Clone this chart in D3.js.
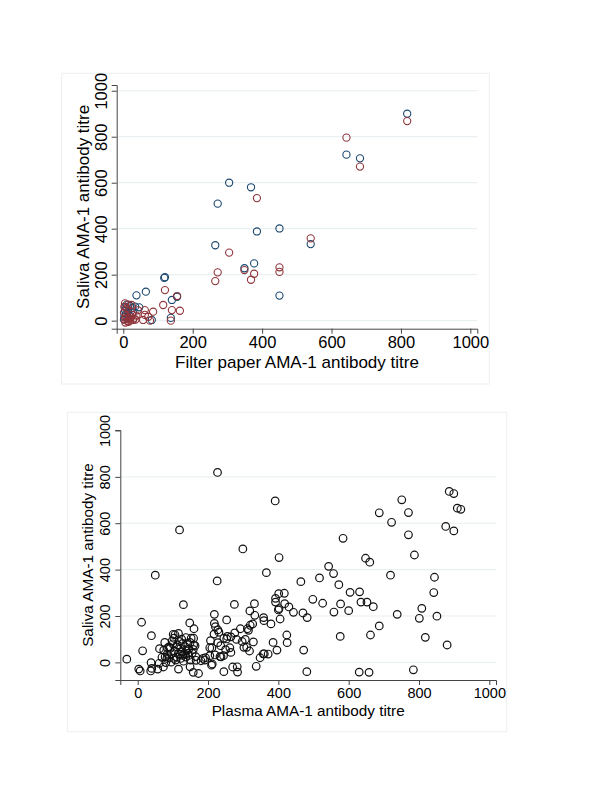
<!DOCTYPE html>
<html>
<head>
<meta charset="utf-8">
<script src="https://cdn.jsdelivr.net/npm/d3@7"></script>
<style>
  body { margin: 0; background: #fff; }
  text { font-family: "Liberation Sans", Arial, sans-serif; fill: #000; }
</style>
</head>
<body>
<script>
// tick labels shared by both panels
const tickVals = [0, 200, 400, 600, 800, 1000];

// top panel: filter paper vs saliva, two series
const blueFilter = [818, 643, 682, 385, 305, 540, 272, 265, 377, 349,
    368, 450, 450, 120, 118, 140, 155, 137, 82, 65,
    38, 19, 34, 46, 26, 10, 5, 8, 3, 14,
    2, 20, 12, 6, 28];
const blueSaliva = [900, 722, 706, 388, 600, 333, 509, 328, 249, 228,
    580, 401, 109, 189, 186, 90, 104, 12, 3, 126,
    110, 64, 61, 58, 55, 70, 45, 30, 18, 40,
    5, 20, 10, 60, 35];
const redFilter = [818, 643, 682, 385, 305, 540, 272, 265, 377, 349,
    368, 450, 450, 120, 115, 140, 155, 163, 137, 86,
    62, 57, 62, 72, 77, 38, 42, 5, 24, 15,
    10, 2, 8, 4, 12, 18, 22, 28, 15, 6,
    25, 30, 9, 20, 3, 35];
const redSaliva = [868, 796, 670, 533, 296, 358, 210, 172, 204, 220,
    178, 232, 212, 133, 68, 46, 107, 43, 0, 39,
    46, 3, 25, 17, 0, 22, 45, 75, 68, 70,
    55, 35, 20, 5, -2, 8, 15, 3, -5, -8,
    25, 10, 12, 0, 60, 5];

// bottom panel: plasma vs saliva
const plasma = [227, 391, 119, 299, 402, 50, 366, 226, 130, 464,
    517, 543, 557, 572, 604, 631, 648, 660, 584, 687,
    722, 751, 770, 770, 787, 719, 876, 886, 899, 899,
    909, 919, 844, 842, 808, 801, 851, 818, 880, 784,
    658, 630, 738, 687, 662, 670, 652, 635, 600, 577,
    558, 576, 526, 498, 482, 470, 472, 481, 443, 430,
    418, 417, 401, 392, 392, 402, 405, 424, 425, 396,
    385, 379, 358, 359, 332, 319, 333, 327, 315, 292,
    275, 253, 218, 218, 221, 228, 217, 207, 276, 245,
    253, 281, 306, 329, 310, 318, 302, 348, 357, 371,
    337, 283, 284, 270, 245, 265, 262, 236, 244, 234,
    211, 205, 193, 210, 173, 158, 149, 186, 166, -31,
    3, 7, 38, 40, 37, 14, 11, 39, 62, 69,
    73, 57, 116, 148, 160, 152, 101, 103, 137, 159,
    77, 85, 74, 92, 113, 128, 149, 163, 158, 105,
    116, 133, 143, 95, 84, 83, 95, 80, 103, 121,
    122, 150, 135, 146, 137, 110, 61, 78, 89, 98,
    106, 116, 111, 122, 142, 159, 191, 180, 220, 212,
    237, 205, 231, 228, 255, 265, 250, 125, 140, 118,
    128, 145, 125, 100, 90, 108, 130, 155, 165, 312,
    320, 297, 360, 400];
const saliva = [819, 696, 571, 489, 452, 376, 387, 351, 249, 348,
    364, 414, 383, 335, 302, 304, 449, 432, 535, 645,
    604, 701, 646, 550, 463, 376, 586, 737, 728, 567,
    665, 660, 367, 301, 233, 190, 199, 108, 75, -32,
    -43, -42, 207, 157, 118, 240, 260, 260, 223, 252,
    217, 112, 255, 272, 193, 213, 53, -40, 216, 239,
    253, 298, 296, 276, 260, 232, 187, 118, 85, 53,
    86, 166, 193, 180, 253, 222, 203, 166, 138, 145,
    250, 183, 207, 168, 154, 140, 122, 94, 127, 104,
    101, 99, 99, 88, 65, 49, 65, 20, 37, 36,
    -17, -19, -42, -20, -40, 43, 63, 72, 29, 25,
    62, 29, 20, -12, -48, -43, -19, 17, 9, 14,
    -29, -37, -1, -26, -37, 50, 173, 115, 59, 22,
    -20, -29, -29, 170, 145, 104, 121, 104, 107, 104,
    86, 62, 53, 60, 75, 82, 86, 72, 56, 49,
    35, 35, 39, 37, 36, 17, 1, -1, 17, 35,
    17, 10, 68, 58, 23, 23, -4, 24, 67, 93,
    119, 125, 67, 60, 82, 75, 10, 7, 32, -7,
    24, 63, 130, 85, 112, 110, 55, 45, 50, 90,
    30, 30, 100, 80, 20, 10, 5, 40, 25, 145,
    160, 90, 37, 226];

const width = 600;
const height = 800;

const svg = d3.select("body")
    .append("svg")
    .attr("width", width)
    .attr("height", height);

const fmt = d3.format("d");

// draws one framed scatter panel
function panel(opt) {
    const g = svg.append("g");

    g.append("rect")
        .attr("x", opt.box[0]).attr("y", opt.box[1])
        .attr("width", opt.box[2]).attr("height", opt.box[3])
        .attr("fill", "none")
        .attr("stroke", "#eceff0")
        .attr("stroke-width", 1);

    const x = d3.scaleLinear().domain(opt.xDom).range(opt.xRange);
    const y = d3.scaleLinear().domain(opt.yDom).range(opt.yRange);

    // gridlines
    g.selectAll(".grid")
        .data(opt.grid)
        .join("line")
        .attr("x1", opt.xRange[0]).attr("x2", opt.xRange[1])
        .attr("y1", d => y(d)).attr("y2", d => y(d))
        .attr("stroke", "#e6eef0")
        .attr("stroke-width", 1);

    const xAxis = g.append("g")
        .attr("transform", `translate(0,${opt.yRange[0]})`)
        .call(d3.axisBottom(x).tickValues(tickVals).tickFormat(fmt).tickSizeOuter(0).tickSize(5).tickPadding(3));
    xAxis.selectAll("text")
        .attr("font-size", opt.tickFont)
        .attr("fill", "#000");

    const yAxis = g.append("g")
        .attr("transform", `translate(${opt.xRange[0]},0)`)
        .call(d3.axisLeft(y).tickValues(tickVals).tickFormat(fmt).tickSizeOuter(0).tickSize(5));
    yAxis.selectAll("text")
        .attr("font-size", opt.tickFont)
        .attr("fill", "#000")
        .attr("text-anchor", "middle")
        .attr("dy", 0)
        .attr("x", 0)
        .attr("transform", `translate(${opt.yTickBase - opt.xRange[0]},0) rotate(-90)`);

    g.selectAll(".domain, .tick line").attr("stroke", "#444");

    g.append("text")
        .attr("x", (opt.xRange[0] + opt.xRange[1]) / 2)
        .attr("y", opt.xTitleY)
        .attr("text-anchor", "middle")
        .attr("font-size", opt.titleFont)
        .text(opt.xTitle);

    g.append("text")
        .attr("transform", `translate(${opt.yTitleX},${(opt.yRange[0] + opt.yRange[1]) / 2}) rotate(-90)`)
        .attr("text-anchor", "middle")
        .attr("font-size", opt.titleFont)
        .text(opt.yTitle);

    opt.series.forEach(s => {
        g.append("g")
            .selectAll("circle")
            .data(s.xs.map((v, i) => [v, s.ys[i]]))
            .join("circle")
            .attr("cx", d => x(d[0]))
            .attr("cy", d => y(d[1]))
            .attr("r", opt.r)
            .attr("fill", "none")
            .attr("stroke", s.color)
            .attr("stroke-width", opt.sw);
    });
}

panel({
    box: [61.7, 73.3, 427.6, 310.7],
    xDom: [-19, 1020], xRange: [116.7, 477.3],
    yDom: [-35, 1025], yRange: [328.7, 85],
    grid: [0, 200, 400, 600, 800, 1000],
    tickFont: 16.5, titleFont: 17,
    yTickBase: 106.5, xTitleY: 367.5, yTitleX: 88.5,
    xTitle: "Filter paper AMA-1 antibody titre",
    yTitle: "Saliva AMA-1 antibody titre",
    r: 3.6, sw: 1.1,
    series: [
        { xs: blueFilter, ys: blueSaliva, color: "#1a476f" },
        { xs: redFilter, ys: redSaliva, color: "#90353b" }
    ]
});

panel({
    box: [67.3, 412.3, 439.4, 319.4],
    xDom: [-49.5, 1019], xRange: [120.3, 496],
    yDom: [-76, 1002], yRange: [680, 430],
    grid: [0, 200, 400, 600, 800],
    tickFont: 14.5, titleFont: 15.3,
    yTickBase: 110, xTitleY: 716, yTitleX: 92.5,
    xTitle: "Plasma AMA-1 antibody titre",
    yTitle: "Saliva AMA-1 antibody titre",
    r: 3.8, sw: 1.2,
    series: [
        { xs: plasma, ys: saliva, color: "#111" }
    ]
});
</script>
</body>
</html>
